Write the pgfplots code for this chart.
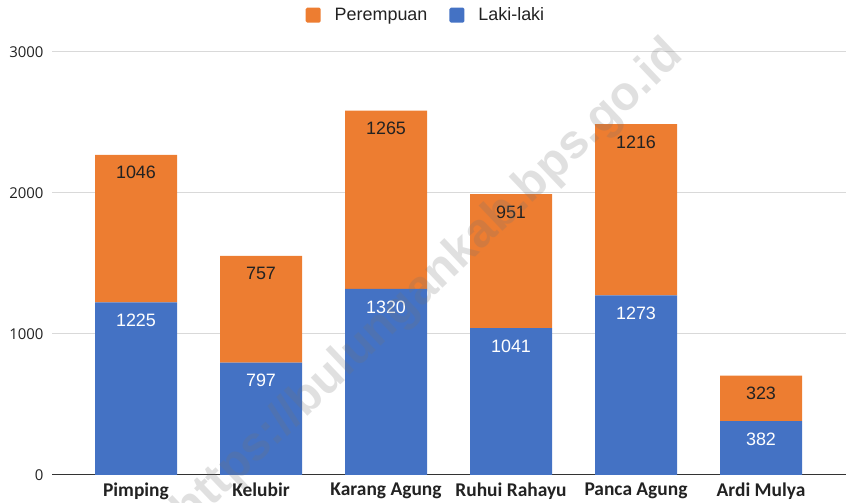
\documentclass[border=0pt]{standalone}
\usepackage{pgfplots}
\pgfplotsset{compat=1.18}
\usepackage{pgfplotstable}
\usepackage{fontspec}
\setmainfont{Liberation Sans}
\newfontfamily\carlito{Carlito}
\newfontfamily\opensans{Open Sans}
\definecolor{cOrange}{HTML}{ED7D31}
\definecolor{cBlue}{HTML}{4472C4}
\definecolor{cGrid}{HTML}{D9D9D9}
\definecolor{cText}{HTML}{222222}

\pgfplotstableread{
x lk pr
0 1225 1046
1 797 757
2 1320 1265
3 1041 951
4 1273 1216
5 382 323
}\data

\begin{document}
\begin{tikzpicture}[x=1bp,y=1bp]
\useasboundingbox (0,0) rectangle (846,503);
\begin{axis}[
  at={(52bp,28bp)}, anchor=south west,
  scale only axis, width=794bp, height=423bp,
  ybar stacked, bar width=82bp,
  xmin=-0.672, xmax=5.68, ymin=0, ymax=3000,
  xtick=data,
  xticklabels={Pimping,Kelubir,Karang Agung,Ruhui Rahayu,Panca Agung,Ardi Mulya},
  ytick={0,1000,2000,3000},
  ymajorgrids, grid style={cGrid, line width=1bp},
  major tick length=0pt, tick style={draw=none},
  axis x line*=bottom, axis y line*=left,
  x axis line style={-, draw=black!80, line width=1bp},
  y axis line style={draw=none},
  /pgf/number format/assume math mode=true,
  /pgf/number format/1000 sep={},
  yticklabel style={font=\opensans\fontsize{15}{15}\selectfont, text=cText, xshift=-5bp},
  xticklabel style={font=\carlito\bfseries\fontsize{19.5}{19.5}\selectfont, text=cText, yshift=-4bp},
  nodes near coords,
  point meta=explicit,
  visualization depends on={rawy \as \segh},
  every node near coord/.append style={font=\fontsize{18}{18}\selectfont, anchor=center,
     yshift={\segh*0.0705bp-18bp}},
  legend style={at={(0.471,1.087)}, anchor=center, draw=none, fill=none,
    legend columns=-1, font=\fontsize{18}{18}\selectfont, text=cText,
    /tikz/every odd column/.append style={column sep=12bp},
    /tikz/every even column/.append style={column sep=20bp}},
  legend image code/.code={\fill[#1, rounded corners=1.5bp] (0bp,-7.5bp) rectangle (15bp,7.5bp);},
  reverse legend,
]
\addplot+[fill=cBlue, draw=none, every node near coord/.append style={text=white}] table[x=x, y=lk, meta=lk] {\data};
\addlegendentry{Laki-laki}
\addplot+[fill=cOrange, draw=none, every node near coord/.append style={text=cText}] table[x=x, y=pr, meta=pr] {\data};
\addlegendentry{Perempuan}
\end{axis}
\node[rotate=43.5, font=\bfseries\fontsize{48}{48}\selectfont, text=black!55, opacity=0.22] at (429,219) {https://bulungankab.bps.go.id};
\end{tikzpicture}
\end{document}
